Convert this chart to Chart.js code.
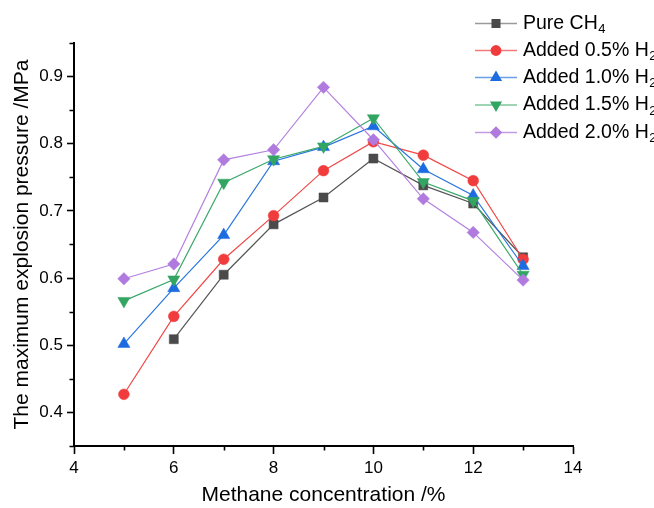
<!DOCTYPE html>
<html>
<head>
<meta charset="utf-8">
<script src="https://cdn.jsdelivr.net/npm/chart.js@4/dist/chart.umd.min.js"></script>
<style>
  html, body { margin: 0; padding: 0; background: #fff; }
  #wrap { width: 654px; height: 508px; }
</style>
</head>
<body>
<div id="wrap"><canvas id="chart" width="654" height="508"></canvas></div>
<script>
// methane concentration (%)
const concentrations = [5, 6, 7, 8, 9, 10, 11, 12, 13];

// max explosion pressure (MPa)
const pureCH4  = [null, 0.509, 0.605, 0.680, 0.720, 0.778, 0.738, 0.711, 0.631];
const added05 = [0.427, 0.543, 0.628, 0.693, 0.760, 0.803, 0.783, 0.745, 0.628];
const added10 = [0.502, 0.585, 0.664, 0.774, 0.795, 0.826, 0.762, 0.723, 0.618];
const added15 = [0.566, 0.598, 0.742, 0.777, 0.796, 0.838, 0.743, 0.715, 0.605];
const added20 = [0.599, 0.621, 0.776, 0.791, 0.884, 0.806, 0.718, 0.668, 0.597];

const xTicks = [4, 6, 8, 10, 12, 14];
const xMinor = [5, 7, 9, 11, 13];
const yTicks = [0.4, 0.5, 0.6, 0.7, 0.8, 0.9];
const yMinor = [0.35, 0.45, 0.55, 0.65, 0.75, 0.85, 0.95];

const legendNames = [
  ["Pure CH", "4"],
  ["Added 0.5% H", "2"],
  ["Added 1.0% H", "2"],
  ["Added 1.5% H", "2"],
  ["Added 2.0% H", "2"]
];

const FONT = "'Liberation Sans', Arial, sans-serif";

function toXY(values) {
  return concentrations.map((c, i) => ({ x: c, y: values[i] }));
}

function series(label, values, line, fill, style, radius, rotation, order, legendLine) {
  return {
    label: label,
    data: toXY(values),
    borderColor: line,
    backgroundColor: fill,
    pointBackgroundColor: fill,
    pointBorderColor: fill,
    pointBorderWidth: 0.5,
    pointStyle: style,
    pointRadius: radius,
    pointRotation: rotation,
    borderWidth: 1.2,
    tension: 0,
    order: order,
    legendLine: legendLine
  };
}

const datasets = [
  series("Pure CH4", pureCH4, "#555555", "#4a4a4a", "rect", 6.4, 0, 4, "#9a9a9a"),
  series("Added 0.5% H2", added05, "#f04848", "#f03c3c", "circle", 5.4, 0, 3, "#f47a7a"),
  series("Added 1.0% H2", added10, "#2a76e0", "#1c6be0", "triangle", 7, 0, 2, "#6a9ee8"),
  series("Added 1.5% H2", added15, "#3aa86a", "#33a562", "triangle", 7, 180, 1, "#7cc79c"),
  series("Added 2.0% H2", added20, "#b482e0", "#b07ade", "rectRot", 6.2, 0, 0, "#c49ce6")
];

function drawMarker(ctx, style, r, rot, x, y) {
  if (Chart.helpers && Chart.helpers.drawPoint) {
    Chart.helpers.drawPoint(ctx, { pointStyle: style, radius: r, rotation: rot, borderWidth: 0 }, x, y);
    return;
  }
  ctx.beginPath();
  ctx.arc(x, y, r, 0, Math.PI * 2);
  ctx.fill();
}

const legendPlugin = {
  id: "sideLegend",
  afterDraw(chart) {
    const ctx = chart.ctx;
    const rowY = [23.5, 50.5, 77.5, 105, 132.5];
    ctx.save();
    datasets.forEach((ds, i) => {
      const y = rowY[i];
      ctx.strokeStyle = ds.legendLine;
      ctx.lineWidth = 1.6;
      ctx.beginPath();
      ctx.moveTo(475, y);
      ctx.lineTo(517, y);
      ctx.stroke();
      ctx.fillStyle = ds.backgroundColor;
      ctx.strokeStyle = ds.backgroundColor;
      drawMarker(ctx, ds.pointStyle, ds.pointRadius, ds.pointRotation, 496, y);
      ctx.fillStyle = "#000";
      ctx.textBaseline = "middle";
      ctx.textAlign = "left";
      ctx.font = "19.5px " + FONT;
      const main = legendNames[i][0];
      ctx.fillText(main, 523, y);
      const w = ctx.measureText(main).width;
      ctx.font = "13px " + FONT;
      ctx.fillText(legendNames[i][1], 523 + w + 0.5, y + 6);
    });
    ctx.restore();
  }
};

const minorTickPlugin = {
  id: "minorTicks",
  afterDraw(chart) {
    const ctx = chart.ctx;
    const xs = chart.scales.x, ys = chart.scales.y;
    const area = chart.chartArea;
    ctx.save();
    ctx.strokeStyle = "#000";
    ctx.lineWidth = 1.6;
    ctx.beginPath();
    xMinor.forEach(v => {
      const px = Math.round(xs.getPixelForValue(v)) + 0.5;
      ctx.moveTo(px, area.bottom);
      ctx.lineTo(px, area.bottom + 4.5);
    });
    yMinor.forEach(v => {
      const py = Math.round(ys.getPixelForValue(v)) + 0.5;
      ctx.moveTo(area.left, py);
      ctx.lineTo(area.left - 4.5, py);
    });
    ctx.stroke();
    ctx.restore();
  }
};

new Chart(document.getElementById("chart"), {
  type: "line",
  data: { datasets: datasets },
  plugins: [minorTickPlugin, legendPlugin],
  options: {
    responsive: false,
    animation: false,
    events: [],
    layout: { padding: { top: 43, right: 81, left: 0, bottom: 0 } },
    plugins: {
      legend: { display: false },
      tooltip: { enabled: false }
    },
    scales: {
      x: {
        type: "linear",
        min: 4,
        max: 14,
        afterBuildTicks: s => { s.ticks = xTicks.map(v => ({ value: v })); },
        afterFit: s => { s.height = 62; },
        grid: { drawOnChartArea: false, drawTicks: true, tickLength: 8, tickColor: "#000", tickWidth: 1.6 },
        border: { color: "#000", width: 2 },
        ticks: { color: "#000", padding: 4, font: { family: FONT, size: 17 }, maxRotation: 0 },
        title: {
          display: true,
          text: "Methane concentration /%",
          color: "#000",
          font: { family: FONT, size: 21 },
          padding: { top: 0, bottom: 0 }
        }
      },
      y: {
        type: "linear",
        min: 0.35,
        max: 0.95,
        afterBuildTicks: s => { s.ticks = yTicks.map(v => ({ value: v })); },
        afterFit: s => { s.width = 74; },
        grid: { drawOnChartArea: false, drawTicks: true, tickLength: 7, tickColor: "#000", tickWidth: 1.6 },
        border: { color: "#000", width: 2 },
        ticks: { color: "#000", padding: 4, font: { family: FONT, size: 17 }, callback: v => v.toFixed(1) },
        title: {
          display: true,
          text: "The maximum explosion pressure /MPa",
          color: "#000",
          font: { family: FONT, size: 21 },
          padding: { top: 10, bottom: 10 }
        }
      }
    }
  }
});
</script>
</body>
</html>
